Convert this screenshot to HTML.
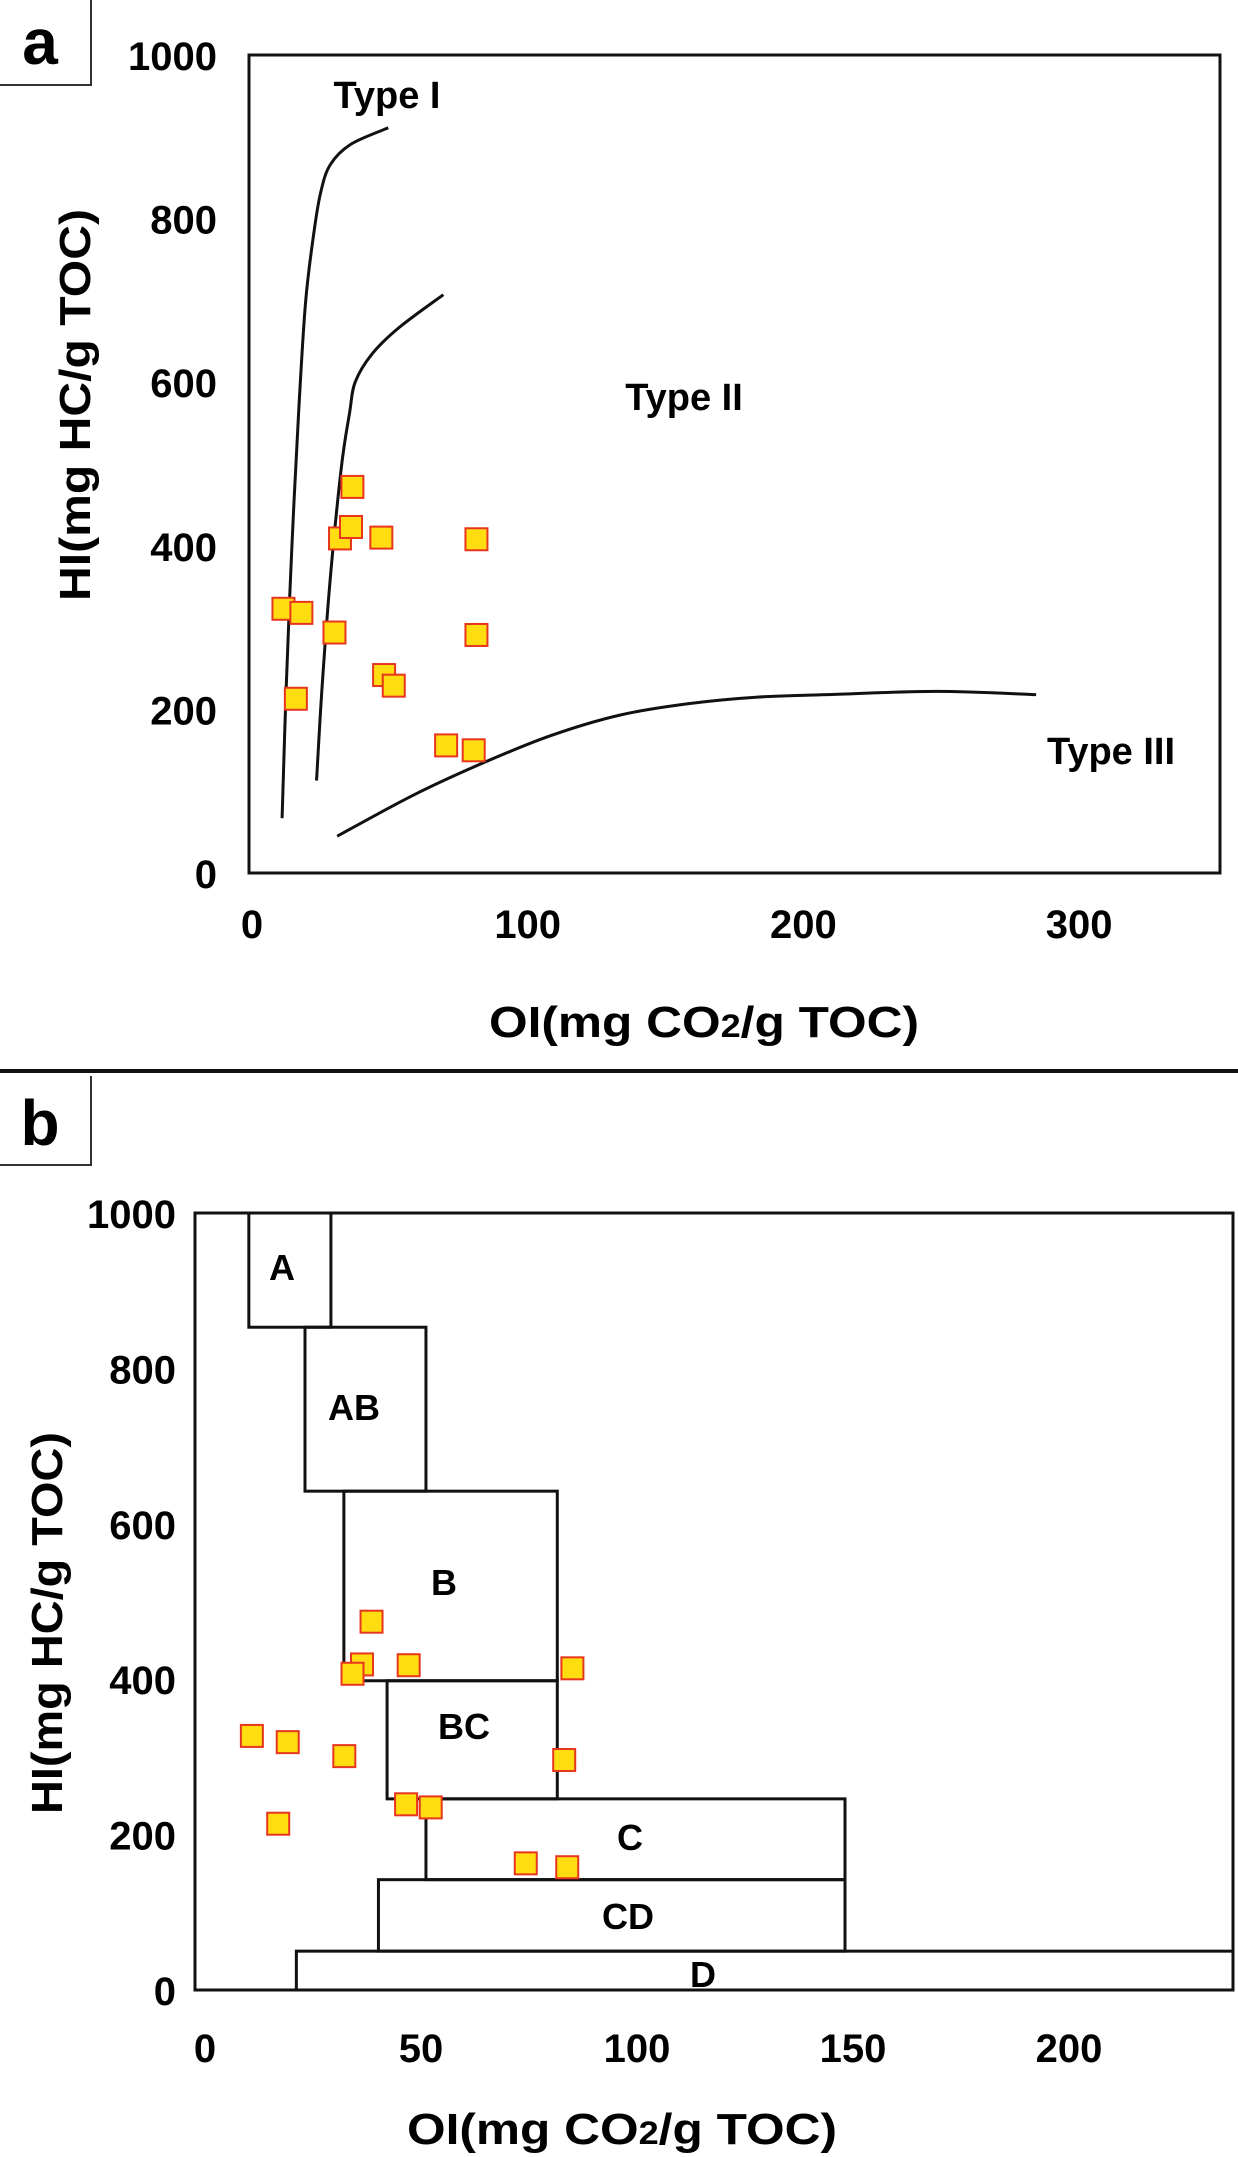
<!DOCTYPE html>
<html><head><meta charset="utf-8"><style>
html,body{margin:0;padding:0;background:#fff;}
svg{display:block;font-family:"Liberation Sans",Arial,sans-serif;font-weight:bold;}
</style></head><body>
<svg id="fig" width="1238" height="2157" viewBox="0 0 1238 2157">
  <g>
    <polyline points="0,85 91,85 91,0" fill="none" stroke="#333" stroke-width="2"/>
    <text x="40" y="64" font-size="64" text-anchor="middle">a</text>
  </g>
  <line x1="0" y1="1071" x2="1238" y2="1071" stroke="#111" stroke-width="4"/>
  <g>
    <polyline points="0,1165 91,1165 91,1076" fill="none" stroke="#333" stroke-width="2"/>
    <text x="40" y="1145" font-size="64" text-anchor="middle">b</text>
  </g>
  <g id="chartA"></g>
  <g id="chartB"></g>
</svg>
<script>
// ---- Panel a data ----
const aYTicks = [0, 200, 400, 600, 800, 1000];
const aXTicks = [0, 100, 200, 300];
const aPointsOI = [12.5, 19, 17, 31, 33, 37, 37.5, 48, 49, 52.5, 71.5, 81.5, 82.5, 82.5];
const aPointsHI = [323, 318, 213, 294, 409, 423, 472, 410, 242, 229, 156, 150, 408, 291];
const typeIOI = [12, 13.5, 15.5, 18, 20.5, 23.5, 26, 29.5, 37, 50.5];
const typeIHI = [67, 227, 395, 563, 697, 782, 832, 866, 891, 911];
const typeIIOI = [24.5, 26.5, 29.5, 33.5, 36.5, 38.5, 44.5, 54.5, 70.5];
const typeIIHI = [113, 227, 361, 496, 563, 600, 634, 667, 707];
const typeIIIOI = [32, 59.5, 84.5, 109.5, 134.5, 159.5, 184.5, 209.5, 249.5, 285.5];
const typeIIIHI = [45, 95, 134, 168, 193, 207, 215, 218, 222, 218];
// ---- Panel b data ----
const bYTicks = [0, 200, 400, 600, 800, 1000];
const bXTicks = [0, 50, 100, 150, 200];
const bPointsOI = [12.7, 21, 34.1, 18.8, 40.4, 38.2, 36, 49, 86.9, 85, 48.4, 54.1, 76.1, 85.7];
const bPointsHI = [327, 319, 301, 214, 474, 419, 407, 418, 414, 296, 239, 235, 163, 158];
const zoneNames = ["A", "AB", "B", "BC", "C", "CD", "D"];
const zoneOImin = [12, 25, 34, 44, 53, 42, 23];
const zoneOImax = [31, 53, 83.4, 83.4, 150, 150, 240];
const zoneHImin = [853, 642, 398, 246, 142, 50, 0];
const zoneHImax = [1000, 853, 642, 398, 246, 142, 50];

const NS = "http://www.w3.org/2000/svg";
function mk(parent, tag, attrs, text) {
  const e = document.createElementNS(NS, tag);
  for (const k in attrs) e.setAttribute(k, attrs[k]);
  if (text !== undefined) e.textContent = text;
  parent.appendChild(e);
  return e;
}
function xTitle(g, x, y) {
  const t = mk(g, "text", {x: x, y: y, "font-size": 44, "text-anchor": "middle", textLength: 430, lengthAdjust: "spacingAndGlyphs"});
  
  
  t.innerHTML = 'OI(mg CO<tspan font-size="32">2</tspan>/g TOC)';
}
function yTitle(g, x, y, len) {
  const t = mk(g, "text", {x: 0, y: 0, "font-size": 44, "text-anchor": "middle", transform: `translate(${x},${y}) rotate(-90)`, textLength: len, lengthAdjust: "spacingAndGlyphs"}, "HI(mg HC/g TOC)");
  
  
}

// ---------- Chart A ----------
(function(){
  const g = document.getElementById("chartA");
  const L = 249, R = 1220, T = 55, B = 873;
  const sx = v => L + v * 2.757;
  const sy = v => B - v * (B - T) / 1000;
  const frame = mk(g, "rect", {x: L, y: T, width: R - L, height: B - T, fill: "none", stroke: "#111", "stroke-width": 3});
  
  
  aYTicks.forEach(v => {
    const t = mk(g, "text", {x: 217, y: sy(v) + 15, "font-size": 40, "text-anchor": "end"}, v);
    
    
  });
  aXTicks.forEach(v => {
    const t = mk(g, "text", {x: sx(v) + 3, y: 938, "font-size": 40, "text-anchor": "middle"}, v);
    
    
  });
  xTitle(g, 704, 1037);
  yTitle(g, 90, 405, 392);
  function curve(xs, ys, name) {
    const pts = xs.map((x, i) => [sx(x), sy(ys[i])]);
    let d = `M${pts[0][0]},${pts[0][1]}`;
    for (let i = 1; i < pts.length; i++) {
      const p0 = pts[Math.max(i - 2, 0)], p1 = pts[i - 1], p2 = pts[i], p3 = pts[Math.min(i + 1, pts.length - 1)];
      const c1 = [p1[0] + (p2[0] - p0[0]) / 6, p1[1] + (p2[1] - p0[1]) / 6];
      const c2 = [p2[0] - (p3[0] - p1[0]) / 6, p2[1] - (p3[1] - p1[1]) / 6];
      d += ` C${c1[0]},${c1[1]} ${c2[0]},${c2[1]} ${p2[0]},${p2[1]}`;
    }
    const p = mk(g, "path", {d: d, fill: "none", stroke: "#111", "stroke-width": 3});
    
    
  }
  curve(typeIOI, typeIHI, 'type-i-curve');
  curve(typeIIOI, typeIIHI, 'type-ii-curve');
  curve(typeIIIOI, typeIIIHI, 'type-iii-curve');
  const labs = [["Type I", 387, 108, 'type-i-label'], ["Type II", 684, 410, 'type-ii-label'], ["Type III", 1111, 764, 'type-iii-label']];
  labs.forEach(l => {
    const t = mk(g, "text", {x: l[1], y: l[2], "font-size": 38, "text-anchor": "middle"}, l[0]);
    
    
  });
  aPointsOI.forEach((x, i) => {
    const r = mk(g, "rect", {x: sx(x) - 11, y: sy(aPointsHI[i]) - 11, width: 22, height: 22, fill: "#ffdd11", stroke: "#e8351e", "stroke-width": 2});
    
    
  });
})();

// ---------- Chart B ----------
(function(){
  const g = document.getElementById("chartB");
  const L = 195, R = 1233, T = 1213, B = 1990;
  const x0 = 197, pxPerUnit = 4.32;
  const sx = v => x0 + v * pxPerUnit;
  const sy = v => B - v * (B - T) / 1000;
  const frame = mk(g, "rect", {x: L, y: T, width: R - L, height: B - T, fill: "none", stroke: "#111", "stroke-width": 3});
  
  
  bYTicks.forEach(v => {
    const t = mk(g, "text", {x: 176, y: sy(v) + 15, "font-size": 40, "text-anchor": "end"}, v);
    
    
  });
  bXTicks.forEach(v => {
    const t = mk(g, "text", {x: sx(v) + 8, y: 2062, "font-size": 40, "text-anchor": "middle"}, v);
    
    
  });
  xTitle(g, 622, 2144);
  yTitle(g, 62, 1623, 382);
  zoneNames.forEach((n, i) => {
    const x1 = sx(zoneOImin[i]), x2 = Math.min(sx(zoneOImax[i]), R);
    const y1 = sy(zoneHImax[i]), y2 = sy(zoneHImin[i]);
    const r = mk(g, "rect", {x: x1, y: y1, width: x2 - x1, height: y2 - y1, fill: "none", stroke: "#111", "stroke-width": 3});
    
    
  });
  const labX = [282, 354, 444, 464, 630, 628, 703];
  const labY = [1280, 1420, 1595, 1739, 1850, 1929, 1987];
  zoneNames.forEach((n, i) => {
    const t = mk(g, "text", {x: labX[i], y: labY[i], "font-size": 36, "text-anchor": "middle"}, n);
    
    
  });
  bPointsOI.forEach((x, i) => {
    const r = mk(g, "rect", {x: sx(x) - 11, y: sy(bPointsHI[i]) - 11, width: 22, height: 22, fill: "#ffdd11", stroke: "#e8351e", "stroke-width": 2});
    
    
  });
})();
</script>
</body></html>
